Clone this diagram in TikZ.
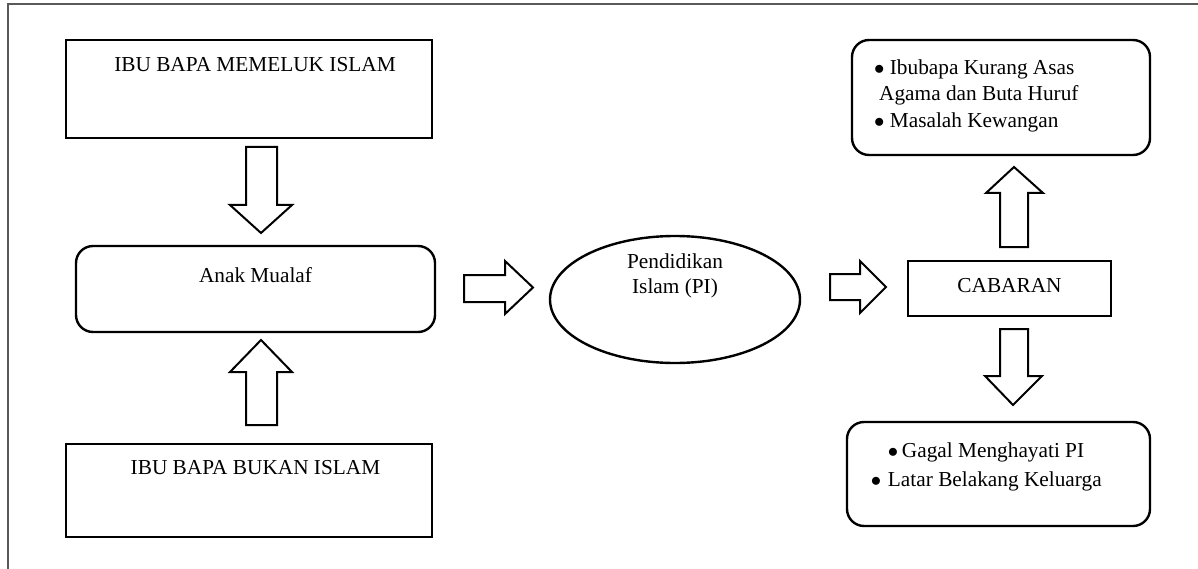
\documentclass[tikz,border=0pt]{standalone}
\usepackage{fontspec}
\setmainfont{Liberation Serif}
\newcommand{\mybul}{$\bullet$}
\begin{document}
\begin{tikzpicture}[x=1pt,y=-1pt,
  font=\fontsize{21.3}{26.6}\selectfont,
  box/.style={draw, line width=2.4pt, inner sep=0pt},
  rbox/.style={draw, line width=2.4pt, rounded corners=17pt, inner sep=0pt},
  barrow/.style={draw, line width=2pt, line join=miter, fill=white},
  lbl/.style={anchor=base, inner sep=0pt},
  lblw/.style={anchor=base west, inner sep=0pt},
  frame/.style={draw=black!65, line width=1.4pt}]
\useasboundingbox (0,0) rectangle (1198,569);
\draw[frame] (8,569) -- (8,4) -- (1198,4);

% boxes
\node[box, minimum width=366pt, minimum height=98pt] (muslim) at (249,89) {};
\node[lbl] (tmuslim) at (255,72) {IBU BAPA MEMELUK ISLAM};

\node[rbox, minimum width=359pt, minimum height=86pt] (anak) at (255.5,289) {};
\node[lbl] (tanak) at (255.5,282) {Anak Mualaf};

\node[box, minimum width=366pt, minimum height=93pt] (bukan) at (249,490.5) {};
\node[lbl] (tbukan) at (255.5,474) {IBU BAPA BUKAN ISLAM};

\draw[line width=2.4pt] (675,299.5) ellipse [x radius=125pt, y radius=63.5pt];
\coordinate (pi) at (675,299.5);
\node[lbl] (tpi1) at (675,268) {Pendidikan};
\node[lbl] (tpi2) at (675,293) {Islam (PI)};

\node[box, minimum width=203pt, minimum height=55pt] (cab) at (1009.5,288.5) {};
\node[lbl] (tcab) at (1009.5,292) {CABARAN};

\node[rbox, minimum width=298pt, minimum height=115pt] (atas) at (1001,97.5) {};
\node[lblw] (ta1) at (874,75) {\mybul\hspace{5.3pt}Ibubapa Kurang Asas};
\node[lblw] (ta2) at (879,101) {Agama dan Buta Huruf};
\node[lblw] (ta3) at (874,128) {\mybul\hspace{5.3pt}Masalah Kewangan};

\node[rbox, minimum width=303pt, minimum height=104pt] (bawah) at (998.5,474) {};
\node[lblw] (tb1) at (887.7,457) {\mybul\hspace{3.7pt}Gagal Menghayati PI};
\node[lblw] (tb2) at (870.7,486) {\mybul\hspace{6.7pt}Latar Belakang Keluarga};

% block arrows
\draw[barrow] (246,147) -- (277,147) -- (277,205) -- (292,205) -- (261,233) -- (230,205) -- (246,205) -- cycle;
\draw[barrow] (246,425) -- (277,425) -- (277,372) -- (292,372) -- (261,340) -- (230,372) -- (246,372) -- cycle;
\draw[barrow] (464,275) -- (505,275) -- (505,261) -- (533,287.5) -- (505,314) -- (505,302) -- (464,302) -- cycle;
\draw[barrow] (830,274) -- (860,274) -- (860,261) -- (886,287) -- (860,313) -- (860,300) -- (830,300) -- cycle;
\draw[barrow] (1000,247) -- (1028,247) -- (1028,193) -- (1043,193) -- (1014,167) -- (986,193) -- (1000,193) -- cycle;
\draw[barrow] (1000,329) -- (1028,329) -- (1028,376) -- (1042,376) -- (1013,405) -- (985,376) -- (1000,376) -- cycle;
\end{tikzpicture}
\end{document}
